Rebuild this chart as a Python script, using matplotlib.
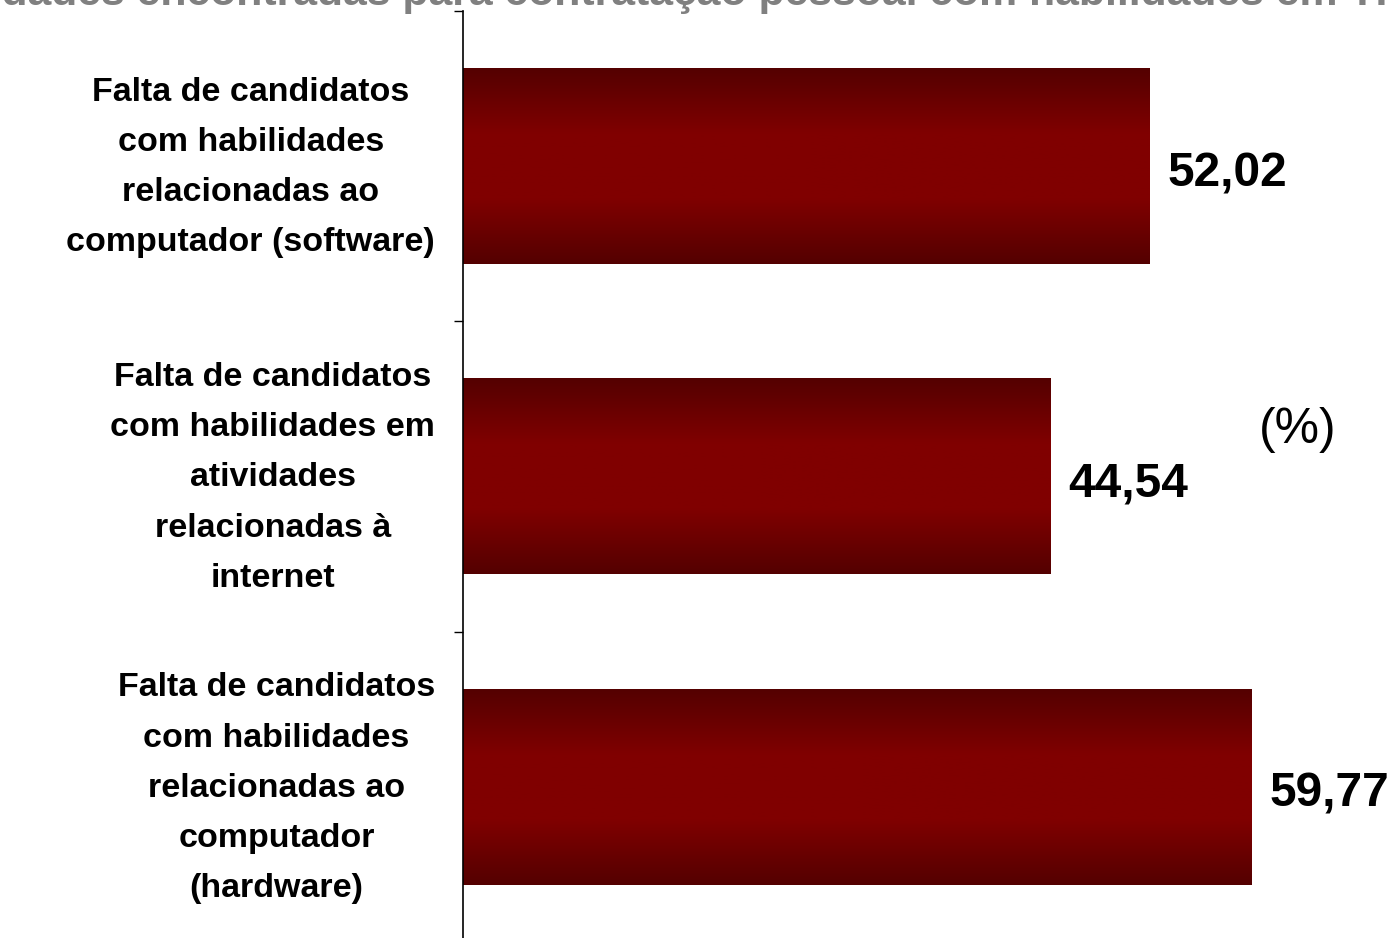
import numpy as np
import matplotlib.pyplot as plt
from matplotlib.colors import LinearSegmentedColormap

# Chart data
title = "Dificuldades encontradas para contratação pessoal com habilidades em TIC"
categories = [
    "Falta de candidatos\ncom habilidades\nrelacionadas ao\ncomputador (software)",
    "Falta de candidatos\ncom habilidades em\natividades\nrelacionadas à\ninternet",
    "Falta de candidatos\ncom habilidades\nrelacionadas ao\ncomputador\n(hardware)",
]
values = [52.02, 44.54, 59.77]
value_labels = ["52,02", "44,54", "59,77"]
unit_label = "(%)"

plt.rcParams['font.family'] = ['Liberation Sans', 'DejaVu Sans']

W, H = 1389, 938
fig = plt.figure(figsize=(W / 100, H / 100), dpi=100)
ax = fig.add_axes([463 / W, -4 / H, 926 / W, 931 / H])

ypos = np.arange(len(values))
bars = ax.barh(ypos, values, height=0.63, color='none', edgecolor='none')

# vertical dark-bright-dark gradient on each bar
cmap = LinearSegmentedColormap.from_list('bar', ['#540000', '#800000', '#800000', '#540000'])
grad = np.linspace(0, 1, 256).reshape(-1, 1)
for b in bars:
    x0, y0 = b.get_x(), b.get_y()
    ax.imshow(grad, cmap=cmap, aspect='auto', interpolation='bilinear',
              extent=[x0, x0 + b.get_width(), y0 + b.get_height(), y0], zorder=2)

for b, lab in zip(bars, value_labels):
    ax.annotate(lab, (b.get_width(), b.get_y() + b.get_height() / 2),
                xytext=(12.5, -5.5), textcoords='offset points', ha='left', va='center',
                fontsize=34.5, fontweight='bold', color='black', annotation_clip=False)

# category labels left of the axis
for y, cat in zip(ypos, categories):
    ax.annotate(cat, (0, y), xycoords=('axes fraction', 'data'),
                xytext=(-20, -1), textcoords='offset points', ha='right', va='center',
                multialignment='center', linespacing=1.8,
                fontsize=24.5, fontweight='bold', color='black', annotation_clip=False)

ax.set_xlim(0, 70.15)
ax.set_ylim(2.5, -0.5)

ax.set_yticks([])
ax.set_yticks([-0.5, 0.5, 1.5, 2.5], minor=True)
ax.tick_params(axis='y', which='minor', length=6.5, width=1, direction='out')
ax.set_xticks([])

for s in ['top', 'right', 'bottom']:
    ax.spines[s].set_visible(False)
ax.spines['left'].set_linewidth(1.2)
ax.patch.set_visible(False)

fig.text(645 / W, 1 - 5 / H, title, ha='center', va='baseline',
         fontsize=30.8, fontweight='bold', color='#808080')
fig.text(1298 / W, 1 - 430 / H, unit_label, ha='center', va='center', fontsize=36)

fig.savefig('out.png', dpi=100)
